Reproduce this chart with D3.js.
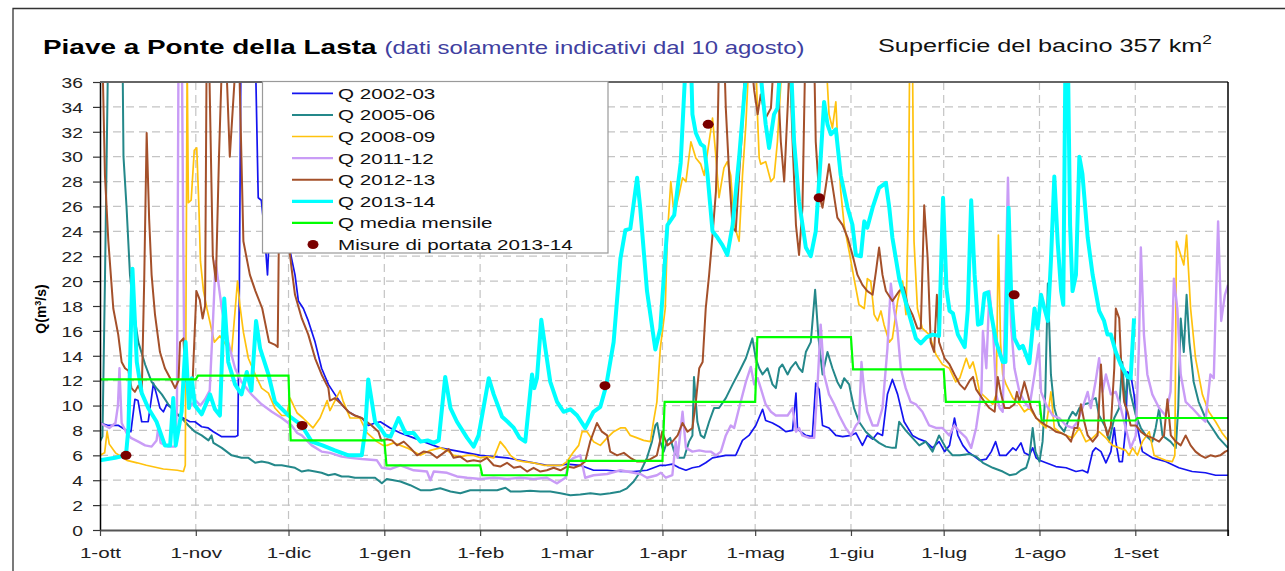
<!DOCTYPE html>
<html><head><meta charset="utf-8">
<script src="https://cdn.jsdelivr.net/npm/d3@7"></script>
<style>
body{margin:0;background:#fff;}
svg{display:block;font-family:"Liberation Sans",Arial,sans-serif;}
</style></head><body>
<svg id="chart" width="1285" height="571"></svg>
<script>
// ---------- DATA (day index from 1 October, discharge m3/s) ----------
const monthLabels = ["1-ott","1-nov","1-dic","1-gen","1-feb","1-mar","1-apr","1-mag","1-giu","1-lug","1-ago","1-set"];
const monthStarts = [0,31,61,92,123,151,182,212,243,273,304,335];
const yTicks = [0,2,4,6,8,10,12,14,16,18,20,22,24,26,28,30,32,34,36];

const q0203 = [[0,8.6],[2.7,8.4],[6,8.4],[8.6,8.0],[10,7.9],[11.3,10.5],[12.3,10.4],[13.5,8.7],[15.6,8.7],[17.3,11.8],[18.3,10.9],[19.4,9.8],[20.5,9.5],[21.6,10.1],[23.2,9.8],[25.3,9.2],[26.9,9.0],[29.1,8.7],[30.7,8.7],[32.9,8.3],[35,8.2],[36.7,7.9],[39.4,7.5],[43.7,7.5],[44.6,7.6],[45.1,19.7],[45.6,38],[50.3,38],[51.2,26.7],[52.2,26.5],[53.2,24],[54.2,20.5],[55,25],[58,27],[62,21.8],[63.1,20.5],[64.2,18.4],[65.8,17.8],[67.4,16.8],[69.6,15.1],[71.7,13],[73.9,11.7],[76,10.9],[78.2,10.1],[80.4,9.5],[82.5,9.2],[84.7,9.0],[86.8,8.4],[89,8.6],[90.7,8.7],[93.9,8.2],[97.2,7.8],[101.5,7.4],[105.8,7.0],[110.1,6.6],[114.4,6.4],[118.8,6.2],[123.1,6.0],[127.4,5.9],[131.7,5.8],[136,5.6],[140.3,5.4],[144.6,5.2],[149,5.2],[151.1,5.3],[155.4,5.2],[159.7,4.8],[164.1,4.8],[168.4,4.7],[172.7,4.7],[177,4.8],[181.3,5.2],[183.1,5.2],[185.2,5.3],[187.4,5.0],[189.6,4.8],[191.7,5.0],[193.9,5.1],[196,5.4],[198.2,5.8],[200.3,5.9],[202.5,6.0],[205.7,6.0],[207.9,7.2],[210,7.6],[212.2,8.4],[214.4,9.7],[215.4,8.8],[217.6,8.6],[219.8,8.3],[221.9,7.9],[224.1,8.0],[225.2,11],[225.7,8.1],[228.4,7.6],[230.5,7.5],[231.6,11.8],[232.7,11.3],[233.8,8.4],[235.9,8.2],[238.1,7.6],[240.3,7.5],[243,7.6],[244.6,7.8],[246.7,6.8],[248.3,7.6],[250,7.3],[251.6,7.8],[253.2,7.6],[254.8,10.9],[256.4,12.1],[258.1,10.9],[260.2,8.7],[262.9,7.6],[265.1,7.3],[267.2,7.1],[269.4,6.6],[271.5,7.1],[273.3,6.3],[274.9,6.8],[276.5,9.0],[277.6,7.6],[279.2,6.8],[280.8,6.3],[282.5,6.0],[284.6,5.6],[286.8,5.7],[288.4,6.3],[289.8,7.1],[291.1,6.0],[293.2,6.0],[295.4,6.6],[296.4,6.4],[298,7.0],[299.1,6.2],[300.7,6.0],[301.8,6.6],[302.9,5.8],[304,5.6],[306.1,5.4],[309.3,5.1],[312.6,5.0],[315.8,4.7],[317.9,4.8],[319.6,4.6],[321.2,6.3],[322.2,6.6],[323.9,6.3],[325.5,5.4],[327.1,6.3],[328.2,8.2],[328.7,7.1],[329.8,5.5],[330.8,5.5],[331.9,8.2],[332.5,12.7],[333.5,12.5],[334.6,10.9],[335.7,8.2],[337.3,6.3],[340.5,5.8],[344.8,5.5],[349.1,5.0],[353.4,4.7],[357.7,4.6],[361,4.4],[365,4.4]];

const q0506 = [[0,7.1],[0.8,7.5],[1.6,20],[2.6,38],[7.3,38],[7.6,30],[8.6,25.9],[9.7,20.5],[10.8,17.8],[12.4,15.1],[14.6,13.3],[16.7,11.9],[18.3,11.4],[20,10.9],[22.1,10.1],[24.3,9.5],[26.4,9.0],[28.6,8.4],[30.7,7.9],[32.9,7.6],[35.1,7.2],[36.1,7.6],[36.7,7.0],[39.4,6.6],[42.6,6.0],[45.8,5.8],[48,5.8],[50.2,5.4],[52.3,5.5],[54.5,5.4],[56.6,5.2],[58.8,5.2],[60.9,5.1],[63.1,5.0],[65.3,4.7],[67.4,4.8],[69.6,4.7],[71.7,4.6],[73.9,4.4],[76,4.5],[78.2,4.3],[80.4,4.3],[82.5,4.2],[84.7,4.2],[89,4.2],[91.2,3.75],[92.8,4.1],[95,4.0],[97.2,3.9],[100.4,3.6],[103.7,3.2],[106.9,3.2],[110.1,3.35],[113.4,3.1],[116.6,2.95],[119.8,3.2],[123.1,3.2],[126.3,3.2],[128.5,3.2],[131.2,3.4],[132.8,3.1],[136,3.1],[139.2,3.15],[142.5,3.1],[145.7,3.1],[149,2.95],[152.2,2.8],[155.4,2.85],[158.7,2.95],[161.9,2.85],[165.1,2.95],[168.4,3.1],[170.5,3.35],[172.7,3.9],[174.9,4.7],[177,5.8],[178.6,7.1],[179.7,8.4],[180.3,8.6],[181.3,7.1],[182.4,6.3],[183.6,7.2],[184.5,7.4],[185.8,6.3],[187.4,5.8],[189,5.8],[190.6,7.1],[191.7,7.6],[192.2,12.3],[193.3,8.7],[194.4,7.6],[195.5,7.4],[197.1,8.7],[198.7,9.8],[200.3,9.8],[202.5,10.6],[204.7,11.7],[206.8,12.7],[209,13.8],[211.1,15.4],[212.2,13.8],[213.3,13],[214.4,12.5],[216,13],[217.6,11.7],[218.7,11.4],[219.8,13],[220.8,13.3],[222.5,12.5],[223.5,13],[225.1,13.5],[226.2,13],[227.3,12.7],[228.4,14.3],[230,15.1],[231.4,19.3],[232.5,15.4],[233.8,12.5],[235.4,14.3],[237,13],[238.6,11.9],[239.7,11.4],[240.8,12.2],[242.4,11.7],[244,9.8],[245.6,8.7],[247.8,7.9],[250,7.4],[252.1,7.0],[254.3,6.7],[256.4,6.6],[257.5,6.6],[258.6,8.7],[260.7,8.0],[262.9,7.4],[265.1,6.8],[267.2,7.1],[269.4,6.3],[271.5,7.6],[273.7,6.6],[275.9,6.0],[278.2,6.0],[281.4,6.1],[283.5,5.9],[285.7,5.4],[288.9,5.0],[292.1,4.7],[294.3,4.4],[296.4,4.5],[298,4.8],[299.7,5.0],[300.7,5.8],[301.8,8.2],[302.7,6.3],[304,5.5],[305,7.1],[305.9,11.1],[306.7,19.8],[307.7,12.5],[308.8,9.8],[310.4,8.4],[312,7.9],[313.6,9.0],[314.7,9.5],[315.8,9.2],[316.9,9.8],[318.5,10.1],[320.1,10.2],[321.2,10.5],[322.2,10.6],[323.3,9.2],[324.4,8.7],[325.5,8.2],[326.5,7.1],[328.2,9.0],[329.8,9.8],[330.8,13.5],[331.7,10],[332.5,12.5],[333.5,10.9],[335.2,9.2],[336.8,8.2],[338.4,7.6],[340.5,7.1],[341.6,8.2],[342.7,9.8],[343.8,7.6],[344.8,7.4],[346.4,7.1],[348.1,6.6],[348.9,9.8],[349.7,17],[350.7,14.3],[351.6,18.9],[352.5,15.1],[353.9,11.9],[355.5,10.3],[357.7,9.0],[359.9,8.2],[362,7.4],[365,6.6]];

const q0809 = [[0,6.0],[1.5,6.2],[2.3,7.9],[3,6.9],[5,6.2],[8.7,5.6],[12,5.4],[15,5.2],[20.5,4.9],[25,4.8],[27,4.7],[27.6,5.2],[28.2,38],[28.6,26.3],[29.5,26.5],[30.5,30.5],[31.3,30.7],[32,26],[32.5,21.6],[33.5,19.2],[34.6,17.8],[37,15.1],[38.8,15.6],[41.5,14.6],[42.6,14.3],[44.5,20],[45.3,18],[46.4,15.9],[48,13.8],[50.2,12.5],[52.3,11.4],[54.5,11],[56.6,9.8],[58.8,9.2],[60.4,9.2],[61.5,10.6],[63.8,9.4],[65.7,9.0],[68.9,8.2],[71.2,9.0],[73.5,10.4],[74.4,9.6],[77.7,11.2],[78.6,10.4],[80.9,9.0],[84.1,9.0],[86.4,7.8],[89.6,7.1],[91.6,6.8],[92.9,6.8],[95,7.0],[97.2,6.8],[99.3,6.6],[101.5,6.3],[103.7,6.0],[106.9,6.4],[110.1,6.6],[112.3,6.4],[114.4,6.0],[116.6,5.9],[118.8,6.0],[120.9,6.0],[123.1,5.8],[125.2,5.9],[127.4,5.8],[129.5,7.1],[131.2,6.6],[132.8,6.0],[134.9,5.6],[137.1,5.5],[140.3,5.4],[143.6,5.2],[146.8,5.2],[149.5,5.2],[151.1,5.5],[153.3,6.3],[154.9,6.8],[156,7.9],[157.6,7.9],[159.7,7.1],[161.9,6.8],[164.1,7.4],[166.2,7.9],[168.4,8.2],[170,8.2],[171.6,7.6],[173.8,7.4],[175.9,7.2],[178.1,7.1],[179.1,8.7],[180.2,10.3],[181.3,14.6],[182,16],[182.9,17.8],[183.6,23.7],[184.7,28],[185.8,25.3],[187.4,27],[188.5,28.3],[189.6,28],[191.2,31.2],[192.8,29.9],[194.4,29.4],[195.5,28.5],[197.1,31.2],[198.2,33.1],[199.3,30],[200.3,26.7],[201.9,29.1],[203,29.6],[204.1,28.5],[205.2,24.5],[206.8,23.2],[207.9,28.5],[209,32.6],[210,38],[212.2,38],[212.8,33],[213.3,29.9],[213.8,29.4],[215.4,29.6],[217.1,28],[218.1,28.3],[219.2,31.2],[220.8,38],[234.9,38],[235.9,33.4],[237,32.3],[238.1,34.4],[238.6,31.8],[239.7,27.2],[240.8,24.5],[242.4,22.4],[244,20.2],[245.6,18.1],[247.3,17.8],[248.3,20.2],[249.4,20],[250.5,17.3],[251.6,16.8],[252.7,17.6],[253.7,16.5],[255.4,15.1],[256.4,15.4],[258.1,18.4],[259.7,20],[260.8,17.3],[261.6,26],[262,38],[262.9,38],[263.4,23.2],[264.5,17.8],[266.1,16.2],[268.3,15.7],[270.5,14.1],[272.6,13.3],[274.8,13],[276.9,11.9],[278.2,12.2],[280.3,13.8],[281.4,13],[282.5,13.5],[283.5,12.5],[284.6,11.1],[286.8,10.6],[288.9,10.1],[290,10.9],[290.7,23.7],[291.4,15],[292.1,12.5],[293.2,11.7],[295.4,10.6],[297.5,10.1],[299.1,9.5],[300.7,9.8],[302.4,9.2],[304,8.7],[306.1,8.2],[307.7,11.1],[308.8,8.2],[310.4,7.9],[312.6,7.6],[314.7,7.4],[316.9,8.2],[319,7.1],[321.2,7.4],[323.3,7.9],[325.5,7.4],[327.6,6.8],[329.8,6.6],[331.9,6.4],[333,6.0],[334.1,6.6],[335.7,6.0],[337.3,7.1],[339.5,7.9],[341.1,6.0],[342.7,5.8],[344.8,5.6],[347,5.5],[347.8,6.0],[348.3,23.2],[349.7,22.1],[350.7,21.3],[351.6,23.7],[352.9,17.8],[354.5,13.8],[356.7,10.9],[358.8,9.5],[361,8.7],[363.1,7.8],[365,7.2]];

const q1112 = [[0,8.6],[1.5,8.4],[3,8.2],[5,8.6],[5.8,10],[6.3,13],[7,8.6],[8.6,7.8],[10,7.4],[12.4,7.1],[14.6,6.8],[16.7,6.7],[18.3,7.2],[18.9,8.3],[19.6,7.0],[22.1,6.7],[24.3,6.7],[24.9,10],[25.4,38],[26.5,38],[27.2,15],[28.3,11],[29.5,10],[31,10.4],[32.5,10.0],[34,10.5],[35.5,11.2],[36.6,17],[37.4,21.6],[39.4,17.8],[41.5,15.1],[43.7,13],[45.8,11.9],[49,10.9],[52.3,10.1],[55.6,9.5],[58.8,9],[62,8.4],[63.8,7.8],[65.3,7.6],[68.5,6.8],[71.7,6.3],[74.4,6.2],[78.2,5.9],[81,5.8],[84.7,5.7],[89.6,5.6],[91.2,5.0],[93.9,4.9],[97.2,5.2],[101.5,4.8],[105.8,4.7],[106.9,4.0],[108,4.7],[112.3,4.6],[115.5,4.3],[118.8,4.2],[123.1,4.1],[127.4,4.2],[131.7,4.1],[136,4.2],[140.3,4.1],[144.6,4.2],[147.9,3.75],[150.6,4.2],[151.7,5.5],[153.3,5.8],[155.4,6.0],[157,4.2],[159.7,4.4],[164.1,4.5],[168.4,4.8],[170.5,4.7],[174.9,4.5],[177,4.2],[180.2,4.4],[181.5,4.6],[183.1,4.2],[185.2,4.4],[186.3,7.1],[186.9,5.8],[188.5,9.5],[189.6,6.6],[191.7,6.3],[193.9,6.4],[196,6.3],[197.6,6.3],[199.3,6.0],[200.9,6.3],[202.5,7.6],[204.1,8.4],[205.2,8.2],[206.8,9.8],[209,11.9],[210.6,13.1],[211.7,11.7],[212.8,12.2],[213.8,11.4],[215.4,10.1],[217.1,9.5],[218.7,9.2],[220.8,9.2],[222.5,9.2],[224.1,9.8],[225.2,7.9],[226.2,8.2],[227.3,7.6],[229.5,7.4],[231.1,7.4],[232.2,11.7],[233.2,16.5],[234.3,12.5],[235.9,10.9],[237.6,10.1],[239.2,9.2],[241.3,8.2],[243,7.6],[244.6,8.4],[245.6,8.7],[246.4,13.5],[247.3,11.1],[248.3,9.5],[250,8.4],[251.6,8.4],[253.2,9.8],[254.8,14.6],[255.9,19.8],[256.9,17.8],[258,16.2],[259.1,13],[260.7,11.4],[262.3,10.3],[264,10.1],[266.1,9.5],[268.3,8.4],[270.5,8.2],[272.6,8.2],[274.8,7.6],[276.4,8.4],[278.2,7.9],[280.3,7.4],[281.9,6.6],[283.5,8.2],[285.2,11.1],[285.7,16],[286.8,13],[287.8,19.2],[288.9,16.5],[290,10.9],[291.1,9.8],[292.1,9.5],[293.8,28.3],[294.8,16.5],[295.9,13],[297.5,11.1],[299.1,10.3],[300.7,9.8],[302.4,12.5],[303.8,14.9],[304.5,11.1],[306.1,10.1],[308.3,9.2],[310.4,9.0],[312.6,8.4],[314.7,8.2],[316.3,8.7],[317.9,9.8],[319.6,11.1],[320.6,9.8],[322.2,12],[323.3,13.8],[324.4,11.1],[325.5,12.5],[327.1,10.9],[328.7,11.1],[330.3,9.8],[331.9,8.2],[333.5,6.6],[335.2,7.6],[336.2,15],[336.8,22.7],[337.8,15.7],[338.9,12.5],[340.5,10.9],[342.7,9.8],[344.8,9.2],[346.4,11.1],[347.5,20.2],[348.6,17.8],[349.7,12.5],[351.3,10.3],[353.4,9.8],[355.6,9.2],[357.7,8.7],[359.3,12.5],[360.4,12.2],[361.8,24.8],[362.8,16.8],[364,18.9],[365,19.7]];

const q1213 = [[0,38],[0.8,38],[1.6,28.5],[2.7,23.2],[4.3,17.8],[5.9,15.7],[7,13.5],[8.1,13],[9.2,12.8],[10.2,11.4],[11.3,11.1],[12.4,11.6],[13.5,10.9],[14.3,20],[15.1,31.9],[15.9,25],[16.7,20.5],[17.8,17.3],[19.4,14.3],[21,13],[22.7,12.2],[24.3,11.4],[25.4,12],[25.9,15.1],[27,15.4],[27.7,12],[28.6,11.8],[30,12.1],[31.2,19.2],[32.3,18.5],[33.2,17],[34,18],[34.5,38],[35.3,38],[36.5,22],[37.5,20],[38.5,30],[39.5,38],[40.8,38],[42,30],[44,38],[45,38],[46.4,23.2],[48.5,20.5],[50.3,19.2],[52.5,17.8],[54.7,15.1],[56.5,14.9],[57.5,14.7],[58.5,38],[60,38],[61,23.2],[62,21],[63.1,18.9],[65.3,17],[67.4,15.7],[69.6,13.8],[71.7,12.5],[73.9,11.4],[74.4,10.4],[76,10.6],[77.7,10.2],[78.2,10.1],[80.4,9.5],[82.5,9.2],[84.7,9.0],[87.9,8.4],[90.1,7.9],[91,7.2],[92.9,7.3],[94.5,7.2],[96.1,6.8],[98.3,7.1],[100.4,6.6],[102.6,6.0],[104.7,6.3],[106.9,6.2],[109,5.8],[111.2,6.2],[112.8,6.5],[114.4,5.8],[116.6,5.9],[118.8,5.5],[120.9,5.6],[123.1,5.5],[125.2,5.8],[127.4,5.2],[129.5,5.1],[131.7,5.4],[133.9,5.0],[136,5.1],[138.2,4.7],[140.3,5.0],[142.5,4.7],[144.6,4.8],[146.8,5.0],[149,4.8],[151.1,5.1],[153.3,5.0],[155.4,5.2],[157,5.5],[158.6,7.1],[160.8,8.6],[162.4,7.9],[164.1,7.6],[165.1,6.3],[167.3,6.0],[169.5,6.2],[171.6,5.8],[173.8,5.5],[175.9,5.5],[178.1,5.7],[180.2,6.0],[181.9,7.9],[183.6,6.8],[185.2,7.1],[186.9,7.6],[188.5,8.6],[190.1,7.9],[191.7,8.2],[192.8,10.3],[193.9,13],[195,13.5],[196,17.8],[197.1,20.5],[198.2,23.7],[199.3,27.2],[199.8,31.2],[200.3,38],[202,38],[202.5,33.9],[203.6,28.5],[204.7,24.3],[205.7,24],[206.8,28.5],[207.9,32.6],[208.8,38],[210.6,38],[211.7,35.3],[212.8,33.4],[213.8,35],[215.4,33.1],[217.1,33.9],[218.1,38],[219.2,37],[220.3,31.2],[221.4,28],[222.5,33.9],[223.2,38],[224.1,31.2],[225.2,24.5],[226.2,22.1],[227.3,25.9],[228.2,38],[231.1,38],[231.6,31.2],[232.7,26.9],[233.8,25.9],[234.9,27.7],[235.9,29.4],[237,27.7],[238.6,25.1],[240.3,24.5],[241.9,23.5],[243.5,22.1],[245.1,20.5],[246.7,19.7],[248.3,19.2],[250,18.9],[251.1,20.8],[252.1,22.7],[253.2,20.5],[254.3,19.2],[256.4,18.4],[258.6,19.2],[260.2,19.5],[261.3,18.1],[262.9,17.3],[264.5,16.2],[265.6,16.2],[266.7,26.1],[267.8,21.9],[268.8,15.1],[269.9,14.3],[270.8,18.9],[271.5,15.1],[272.6,14.3],[273.3,13.8],[274.9,13.3],[276.5,12.5],[278.2,11.7],[279.8,11.3],[281.4,12],[282.5,12.3],[283.5,11.3],[284.6,10.9],[286.2,10.3],[287.8,9.8],[289.5,9.5],[290.5,12.3],[291.6,10.9],[292.7,9.8],[294.3,9.8],[295.9,10.1],[296.7,11.1],[297.5,10.3],[299.1,11.9],[300.2,10.9],[301.3,9.8],[302.9,9.0],[304.5,8.7],[306.1,8.4],[307.7,8.2],[309.3,7.9],[310.9,7.8],[312.6,7.6],[314.2,7.1],[315.3,8.2],[316.3,8.2],[317.4,10.1],[318.5,8.7],[319.6,7.6],[321.2,7.1],[322.8,7.6],[323.9,13.3],[324.9,8.7],[326,7.6],[327.1,8.4],[328.2,13],[328.7,17.8],[329.8,17],[330.6,12.5],[331.4,10.3],[332.5,9.5],[333.5,8.4],[335.2,8.4],[336.8,7.9],[338.4,7.6],[340.5,7.4],[342.7,7.1],[344.3,7.6],[345.4,10.5],[346.5,7.6],[348.1,7.1],[349.7,6.8],[351.3,7.6],[352.9,6.8],[354.5,6.3],[356.1,6.0],[357.7,5.8],[359.3,6.0],[360.9,5.9],[362.5,6.0],[364.1,6.3],[365,6.4]];

const q1314 = [[0,5.6],[4.9,5.8],[8.4,6.0],[9.2,8.2],[10.5,21],[11.9,13.5],[13.5,11],[15.6,9.8],[18.3,8.7],[21,6.8],[22.7,6.8],[23.7,10.6],[24.5,6.8],[26.4,9.5],[27.7,15.1],[28.8,9.8],[29.7,12.2],[30.7,10],[32.9,9.3],[35.6,10.9],[37.2,9.7],[38.8,9.2],[40.2,18.6],[41.5,13.5],[43.7,11.7],[45.8,10.9],[47.5,12.7],[49,11.2],[50.5,16.8],[51.8,14.6],[54.5,12.5],[56.6,10.3],[61,9.2],[65.3,8.4],[68.5,7.1],[72,6.8],[76,6.4],[80.4,6.0],[84.7,6.0],[85.8,8],[86.8,12.1],[89,8.7],[90.7,8.2],[92.3,7.6],[94,7.5],[96.6,9.0],[98.8,7.8],[101.5,7.8],[103.7,7.1],[106,7.2],[108,7.0],[109.6,7.2],[111.7,12.3],[113.4,9.8],[115.5,8.7],[118.8,7.4],[120.9,6.7],[122.5,7.6],[125.8,12.2],[127.4,10.9],[130.1,9.1],[131.9,8.7],[133.9,8.2],[135.8,7.4],[137.6,7.1],[139.8,12.5],[140.5,11.4],[141.4,12.2],[142.8,16.9],[144.1,14.6],[145.7,11.9],[147.9,10.3],[150,9.5],[152.2,9.7],[154.4,9.2],[157,8.2],[159.7,9.5],[161.9,9.9],[163.8,11.6],[166.2,15.1],[168.4,21.8],[170,24.1],[171.6,24.2],[173.8,28.3],[174.8,25.9],[177,19.2],[179.7,14.5],[181.3,16.2],[183.6,24.5],[185.8,25.3],[187.9,29.5],[189.6,38],[191.2,38],[191.7,33.4],[192.8,31.9],[194.4,31],[195.5,30.8],[196.6,28.5],[198.2,24],[199.8,23.5],[201.4,22.9],[203,22.1],[204.7,24.5],[206.8,29.9],[208.4,34.7],[209.5,38],[213.3,38],[214.4,35],[215.4,32.6],[216.5,30.7],[218.1,33.4],[219.2,33.9],[220.3,38],[223.5,38],[224.6,31.2],[226.2,26.4],[228.4,22.7],[230,22],[231.6,24],[233.2,29.9],[234.3,34.4],[235.4,32.6],[236.5,31.8],[238.1,32.2],[239.7,28.5],[241.9,25.9],[243.5,24.5],[244.6,22.1],[246.2,22],[247.3,24.8],[248.3,24.3],[250,25.9],[252.1,27.5],[254.3,27.9],[255.4,25.9],[256.4,23.5],[258.6,20.2],[261.3,17.8],[264,15.4],[265.6,15],[267.5,15.5],[269.4,15.7],[271.5,15.6],[272.8,26.7],[273.9,19.4],[274.9,17.6],[276,17.4],[277.6,15.7],[279.8,14.7],[280.8,17.7],[281.9,26.5],[283,20.5],[284.1,16.5],[285.2,16.6],[286.2,19],[287.3,19.1],[288.4,17.3],[290,15.1],[292.1,13.5],[293,13.5],[294,25.9],[294.8,19.2],[295.9,15.4],[297.5,14.6],[298.6,14.8],[300.7,13.4],[302.4,17.8],[303.4,16.2],[304.5,18.9],[305.6,17.8],[306.7,16.8],[307.7,21.6],[308.8,28.4],[309.9,23.1],[311,19.2],[311.7,18.1],[312.4,38],[313.2,38],[313.9,24.5],[314.7,19.2],[315.8,20.5],[316.9,30],[317.9,28.6],[319.6,23.5],[321.2,20.5],[323.3,17.6],[324.9,16.8],[326,15.7],[327.1,15.7],[328.7,14.3],[330.3,13.3],[332.5,12.3],[333.5,12.2],[334.6,17]];

const monthlyMean = [12.1,12.4,7.2,5.2,4.4,5.55,10.3,15.5,12.9,10.3,8.8,9.0];
const measures = [[8.4,6.0],[65.4,8.4],[163.4,11.6],[196.8,32.6],[232.7,26.7],[295.8,18.9]];

const seriesNames = ["Q 2002-03","Q 2005-06","Q 2008-09","Q 2011-12","Q 2012-13","Q 2013-14","Q media mensile","Misure di portata 2013-14"];

// ---------- LAYOUT ----------
const SX = 1.33;  // horizontal stretch of the original picture's lettering
const P = {left:100, right:1228, top:82, bottom:530};
const svg = d3.select("#chart");
const x = d3.scaleLinear().domain([0,365]).range([P.left,P.right]);
const y = d3.scaleLinear().domain([0,36]).range([P.bottom,P.top]);

// outer frame
svg.append("path").attr("d",`M13,571 V8.5 H1285`).attr("fill","none").attr("stroke","#333").attr("stroke-width",1.3);

// title
const tt = svg.append("text").attr("transform",`translate(43,54) scale(${SX},1)`);
tt.append("tspan").text("Piave a Ponte della Lasta").attr("font-weight","bold").attr("font-size",21).attr("fill","#000");
tt.append("tspan").attr("dx",6).text("(dati solamente indicativi dal 10 agosto)").attr("font-size",18).attr("fill","#4040a0");

const st = svg.append("text").attr("transform",`translate(878,52) scale(${SX},1)`).attr("font-size",19).attr("fill","#111");
st.append("tspan").text("Superficie del bacino 357 km");
st.append("tspan").text("2").attr("font-size",13).attr("dy",-8);

// grid
const grid = svg.append("g");
grid.selectAll("line.h").data(yTicks.filter(d=>d>0 && d<36)).join("line")
  .attr("x1",P.left).attr("x2",P.right).attr("y1",d=>y(d)).attr("y2",d=>y(d))
  .attr("stroke","#c4c4c4").attr("stroke-width",1.2).attr("stroke-dasharray","8,5");
grid.selectAll("line.v").data(monthStarts.filter(d=>d>0)).join("line")
  .attr("y1",P.top).attr("y2",P.bottom).attr("x1",d=>x(d)).attr("x2",d=>x(d))
  .attr("stroke","#c4c4c4").attr("stroke-width",1.2).attr("stroke-dasharray","8,5");

// clip
svg.append("defs").append("clipPath").attr("id","clip").append("rect")
  .attr("x",P.left).attr("y",P.top).attr("width",P.right-P.left).attr("height",P.bottom-P.top);

const line = d3.line().x(d=>x(d[0])).y(d=>y(d[1]));
const styles = [
  {data:q0203,color:"#1414f0",w:1.7},
  {data:q0506,color:"#24888a",w:2},
  {data:q0809,color:"#ffc20e",w:1.7},
  {data:q1112,color:"#c99cf6",w:2.4},
  {data:q1213,color:"#a4502a",w:2},
  {data:q1314,color:"#00ffff",w:4}
];
const lines = svg.append("g").attr("clip-path","url(#clip)");
styles.forEach(s=>{
  lines.append("path").datum(s.data).attr("d",line).attr("fill","none")
    .attr("stroke",s.color).attr("stroke-width",s.w).attr("stroke-linejoin","round");
});

// monthly mean steps
const monthEnds = monthStarts.slice(1).concat([365]);
const stepPts = [];
monthlyMean.forEach((v,i)=>{
  stepPts.push([monthStarts[i] + (i===0?0:0.7), v]);
  stepPts.push([monthEnds[i], v]);
});
lines.append("path").datum(stepPts).attr("d",line).attr("fill","none")
  .attr("stroke","#00ff00").attr("stroke-width",2.2);

// measurements
lines.selectAll("ellipse.m").data(measures).join("ellipse")
  .attr("cx",d=>x(d[0])).attr("cy",d=>y(d[1])).attr("rx",5.5).attr("ry",4.5).attr("fill","#7a0000");

// axes
const yAxis = svg.append("g").attr("transform",`translate(${P.left},0)`)
  .call(d3.axisLeft(y).tickValues(yTicks).tickSize(7).tickSizeOuter(0));
yAxis.select(".domain").attr("stroke","#000").attr("stroke-width",1.5);
yAxis.selectAll(".tick line").attr("stroke","#333").attr("stroke-width",1.2);
yAxis.selectAll(".tick text").attr("x",null).attr("dy","0.36em")
  .attr("transform",`translate(-17,0) scale(${SX},1)`).attr("font-size",14.5).attr("fill","#222")
  .attr("font-family","Liberation Sans, Arial, sans-serif");

const xAxis = svg.append("g").attr("transform",`translate(0,${P.bottom})`)
  .call(d3.axisBottom(x).tickValues(monthStarts.concat([365])).tickSize(6).tickSizeOuter(0).tickFormat((d,i)=>monthLabels[i]||""));
xAxis.select(".domain").attr("stroke","#555").attr("stroke-width",2);
xAxis.selectAll(".tick line").attr("stroke","#444").attr("stroke-width",1.2);
xAxis.selectAll(".tick text").attr("y",null).attr("dy",null)
  .attr("transform",`translate(0,28) scale(${SX},1)`).attr("font-size",15.5).attr("fill","#222")
  .attr("font-family","Liberation Sans, Arial, sans-serif");

// top and right border
svg.append("line").attr("x1",P.left).attr("x2",P.right).attr("y1",P.top).attr("y2",P.top).attr("stroke","#666").attr("stroke-width",2);
svg.append("line").attr("x1",P.right).attr("x2",P.right).attr("y1",P.top).attr("y2",P.bottom+6).attr("stroke","#000").attr("stroke-width",1.5);

// y axis title
const yt = svg.append("text").attr("transform","translate(46,309) rotate(-90)")
  .attr("text-anchor","middle").attr("font-weight","bold").attr("font-size",14).attr("fill","#000");
yt.append("tspan").text("Q(m");
yt.append("tspan").text("3").attr("font-size",9).attr("dy",-5);
yt.append("tspan").text("/s)").attr("dy",5);

// legend
const lg = svg.append("g");
lg.append("rect").attr("x",262.5).attr("y",81.5).attr("width",345.5).attr("height",171.5)
  .attr("fill","#fff").attr("stroke","#9a9a9a").attr("stroke-width",1.2);
const legendItems = styles.map(s=>({color:s.color,w:s.w,type:"line"}))
  .concat([{color:"#00ff00",w:2.2,type:"line"},{color:"#7a0000",type:"dot"}]);
legendItems.forEach((it,i)=>{
  const yy = 93.3 + i*21.6;
  if(it.type==="line"){
    lg.append("line").attr("x1",292).attr("x2",333).attr("y1",yy).attr("y2",yy)
      .attr("stroke",it.color).attr("stroke-width",Math.min(it.w,3.2));
  } else {
    lg.append("ellipse").attr("cx",313).attr("cy",yy).attr("rx",5.5).attr("ry",4.5).attr("fill",it.color);
  }
  lg.append("text").attr("transform",`translate(338,${yy}) scale(${SX},1)`).attr("dy","0.36em")
    .attr("font-size",15.5).attr("fill","#111").text(seriesNames[i]);
});
</script>
</body></html>
